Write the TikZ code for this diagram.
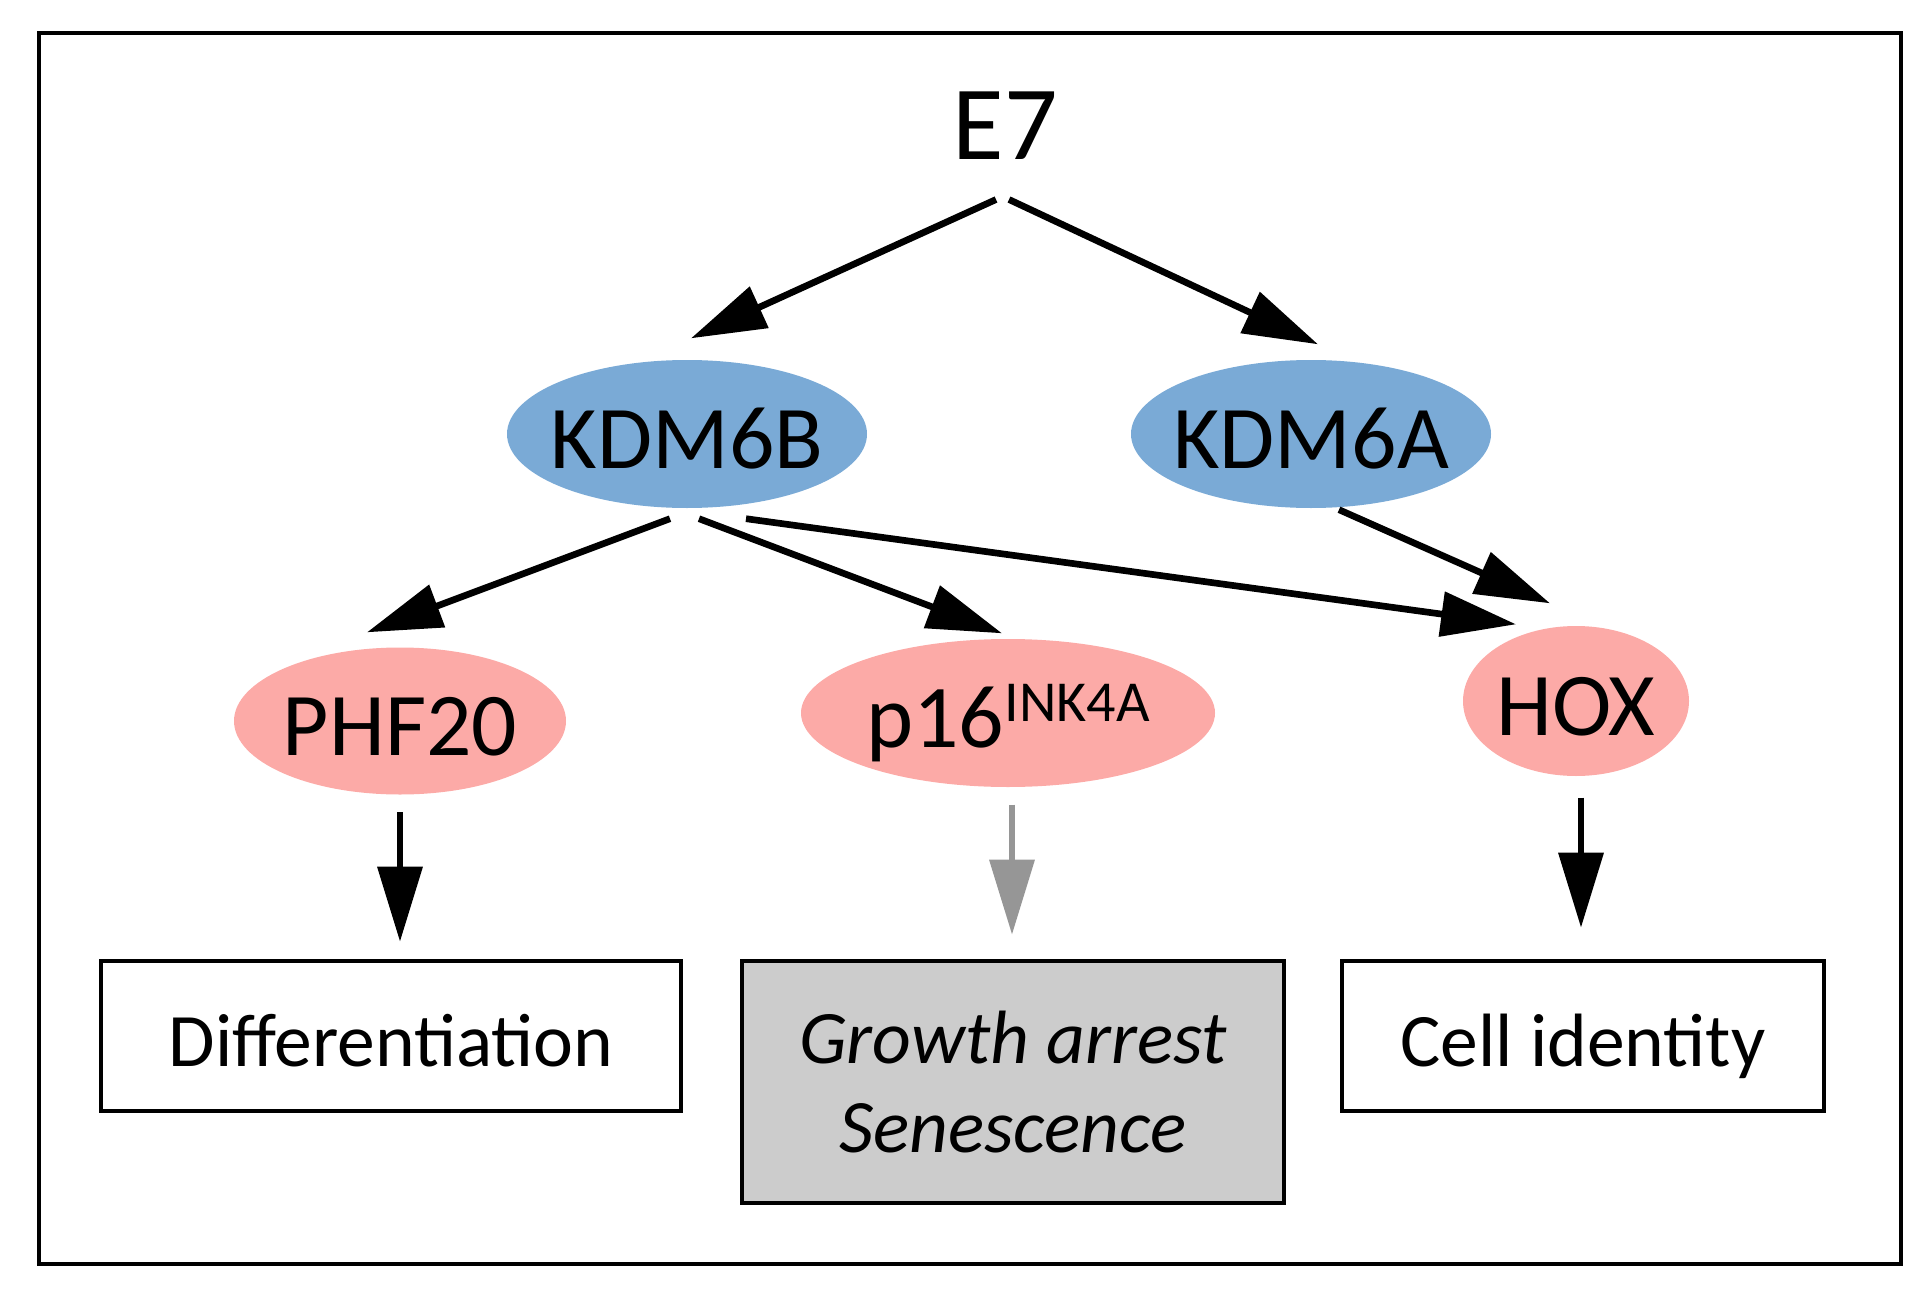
\documentclass[tikz,border=0pt]{standalone}
\usepackage{fontspec}
\setmainfont{Carlito}
\usetikzlibrary{shapes.geometric,arrows.meta}

\definecolor{kdmblue}{RGB}{122,170,214}
\definecolor{genepink}{RGB}{252,170,167}
\definecolor{boxgray}{RGB}{204,204,204}
\definecolor{arrowgray}{RGB}{150,150,150}

\tikzset{
  gene/.style={ellipse, inner sep=0pt, text height=0.68cm, text depth=0pt,
    font=\fontsize{25.5}{30}\selectfont},
  outcome/.style={draw, line width=1.3pt, inner sep=0pt, align=center,
    font=\fontsize{21.5}{26}\selectfont},
  arr/.style={line width=1.9pt, -{Triangle[length=0.75cm,width=0.44cm]}}
}

\begin{document}
\begin{tikzpicture}
\useasboundingbox (0,0) rectangle (19.17,12.95);
\draw[line width=1.2pt] (0.39,0.31) rectangle (19.01,12.62);

\node[inner sep=0pt, font=\fontsize{30}{34}\selectfont] (e7) at (10.05,11.69) {E7};

\node[gene, fill=kdmblue, minimum width=3.6cm, minimum height=1.48cm] (kdm6b) at (6.87,8.61) {\makebox[0pt]{KDM6B}};
\node[gene, fill=kdmblue, minimum width=3.6cm, minimum height=1.48cm] (kdm6a) at (13.11,8.61) {\makebox[0pt]{KDM6A}};

\node[gene, fill=genepink, minimum width=3.32cm, minimum height=1.47cm] (phf20) at (4.00,5.74) {\makebox[0pt]{PHF20}};
\node[gene, fill=genepink, minimum width=4.14cm, minimum height=1.48cm] (p16) at (10.08,5.82) {\makebox[0pt]{p16\raisebox{0.26cm}{\fontsize{16.5}{18}\selectfont INK4A}}};
\node[gene, fill=genepink, minimum width=2.26cm, minimum height=1.50cm] (hox) at (15.76,5.94) {\makebox[0pt]{HOX}};

\node[outcome, text height=0.6cm, text depth=0pt, minimum width=5.8cm, minimum height=1.5cm] (diff) at (3.91,2.59) {Differentiation};
\node[outcome, fill=boxgray, minimum width=5.42cm, minimum height=2.42cm, font=\fontsize{21.5}{25.5}\selectfont\itshape] (arrest) at (10.13,2.13) {Growth arrest\\Senescence};
\node[outcome, text height=0.6cm, text depth=0pt, minimum width=4.82cm, minimum height=1.5cm] (ident) at (15.83,2.59) {Cell identity};

% E7 targets
\draw[arr] ([xshift=-0.09cm,yshift=-0.39cm]e7.south) -- ([xshift=0.04cm,yshift=0.21cm]kdm6b.north);
\draw[arr] ([xshift=0.04cm,yshift=-0.39cm]e7.south) -- ([xshift=0.07cm,yshift=0.15cm]kdm6a.north);

% demethylase targets
\draw[arr] ([xshift=-0.17cm,yshift=-0.1cm]kdm6b.south) -- ([xshift=-0.33cm,yshift=0.145cm]phf20.north);
\draw[arr] ([xshift=0.12cm,yshift=-0.1cm]kdm6b.south) -- ([xshift=-0.06cm,yshift=0.05cm]p16.north);
\draw[arr] ([xshift=0.59cm,yshift=-0.1cm]kdm6b.south) -- ([xshift=-0.6cm,yshift=0.01cm]hox.north);
\draw[arr] ([xshift=0.28cm,yshift=-0.01cm]kdm6a.south) -- ([xshift=-0.26cm,yshift=0.22cm]hox.north);

% outcomes
\draw[arr, shorten <=0.17cm, shorten >=0.17cm] (phf20.south) -- (phf20.south |- diff.north);
\draw[arr, arrowgray, shorten <=0.17cm, shorten >=0.24cm] ([xshift=0.04cm]p16.south) -- ([xshift=0.04cm]p16.south |- arrest.north);
\draw[arr, shorten <=0.21cm, shorten >=0.31cm] ([xshift=0.05cm]hox.south) -- ([xshift=0.05cm]hox.south |- ident.north);
\end{tikzpicture}
\end{document}
